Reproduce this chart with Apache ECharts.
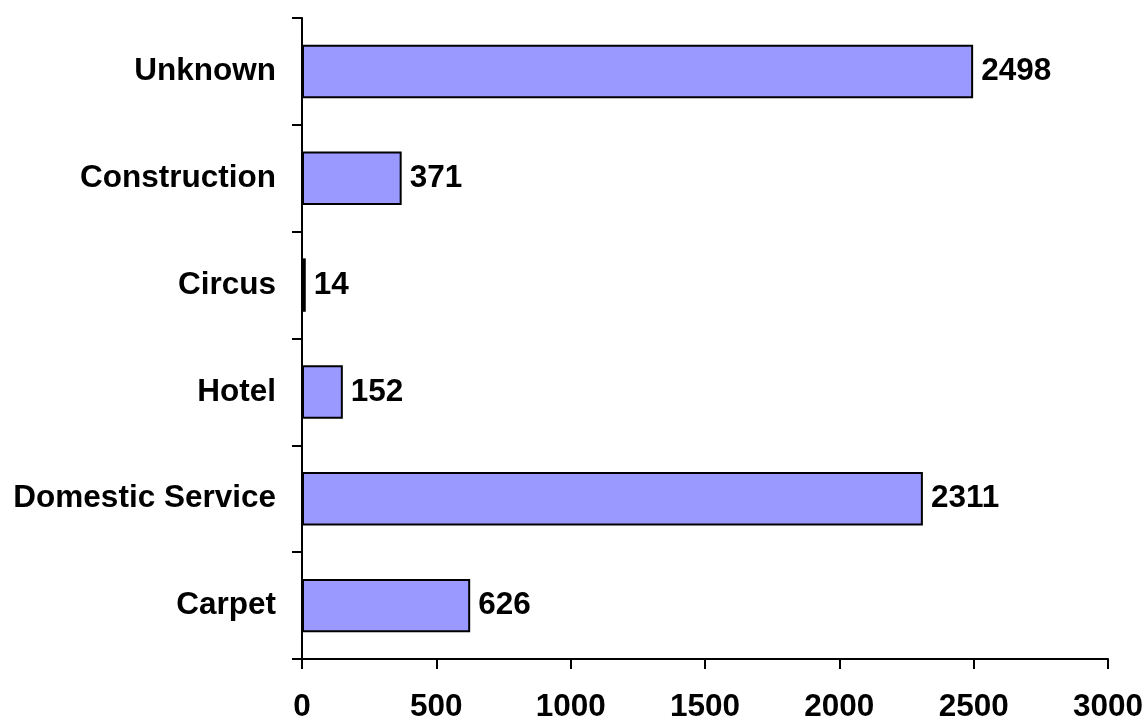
<!DOCTYPE html>
<html><head><meta charset="utf-8">
<script src="https://cdn.jsdelivr.net/npm/echarts@6/dist/echarts.min.js"></script>
<style>html,body{margin:0;padding:0;background:#fff}#c{width:1146px;height:720px}</style>
</head><body><div id="c"></div>
<script>
const categories = ["Carpet", "Domestic Service", "Hotel", "Circus", "Construction", "Unknown"];
const values = [626, 2311, 152, 14, 371, 2498];
const xTicks = [0, 500, 1000, 1500, 2000, 2500, 3000];

const font = "'Liberation Sans', Arial, sans-serif";
const chart = echarts.init(document.getElementById('c'));
chart.setOption({
  animation: false,
  grid: { left: 302, right: 38, top: 18, bottom: 61, containLabel: false, outerBoundsMode: 'none' },
  xAxis: {
    type: 'value', min: xTicks[0], max: xTicks[xTicks.length - 1], interval: 500,
    axisLine: { show: true, lineStyle: { color: '#000', width: 2 } },
    axisTick: { show: true, length: 10, lineStyle: { color: '#000', width: 2 } },
    splitLine: { show: false },
    axisLabel: { color: '#000', fontFamily: font, fontWeight: 'bold', fontSize: 31.5, margin: 32,
      formatter: function (v) { return String(v); } }
  },
  yAxis: {
    type: 'category', data: categories,
    axisLine: { show: true, lineStyle: { color: '#000', width: 2 } },
    axisTick: { show: true, length: 10, lineStyle: { color: '#000', width: 2 } },
    axisLabel: { color: '#000', fontFamily: font, fontWeight: 'bold', fontSize: 31.5, margin: 26,
      padding: [5, 0, 0, 0] }
  },
  series: [{
    type: 'bar', data: values, barWidth: '50%',
    itemStyle: { color: '#9999FF', borderColor: '#000', borderWidth: 2 },
    label: { show: true, position: 'right', distance: 8, color: '#000', fontFamily: font, fontWeight: 'bold', fontSize: 31.5,
      padding: [5, 0, 0, 0] }
  }]
});
</script></body></html>
